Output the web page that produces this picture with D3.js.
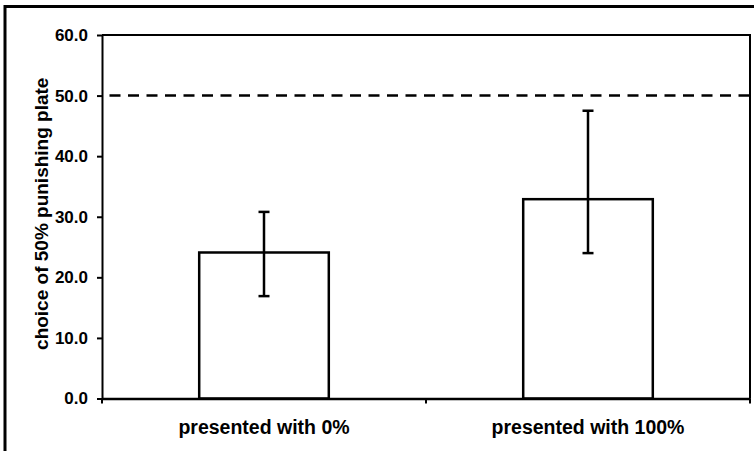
<!DOCTYPE html>
<html>
<head>
<meta charset="utf-8">
<script src="https://cdn.jsdelivr.net/npm/d3@7/dist/d3.min.js"></script>
<style>
  body { margin: 0; background: #fff; }
  svg { display: block; font-family: "Liberation Sans", Arial, sans-serif; }
</style>
</head>
<body>
<svg id="chart" width="754" height="451"></svg>
<script>
// values
const categories = ["presented with 0%", "presented with 100%"];
const means = [24.1, 32.9];
const upper = [30.8, 47.5];
const lower = [16.9, 24.0];
const yTicks = [0, 10, 20, 30, 40, 50, 60];
const chanceLevel = 50;
const yTitle = "choice of 50% punishing plate";

const svg = d3.select("#chart");
const plotL = 102, plotR = 750, plotT = 35, plotB = 398.5;

// outer frame, runs off the right and bottom of the picture
svg.append("rect")
  .attr("x", 5).attr("y", 6.5)
  .attr("width", 800).attr("height", 500)
  .attr("fill", "none").attr("stroke", "#000").attr("stroke-width", 3);

const x = d3.scaleBand().domain(categories).range([plotL, plotR]).padding(0);
const y = d3.scaleLinear().domain([0, 60]).range([plotB, plotT]);
const barW = x.bandwidth() * 0.4;

// plot box top + right
svg.append("path")
  .attr("d", `M${plotL},${y(60)}H${plotR}V${y(0)}`)
  .attr("fill", "none").attr("stroke", "#000").attr("stroke-width", 2);

// chance line
svg.append("line")
  .attr("x1", plotL).attr("x2", plotR)
  .attr("y1", y(chanceLevel)).attr("y2", y(chanceLevel))
  .attr("stroke", "#000").attr("stroke-width", 2.5)
  .attr("stroke-dasharray", "11,7.5")
  .attr("stroke-dashoffset", 11);

// bars
svg.selectAll(".bar").data(categories).join("rect")
  .attr("class", "bar")
  .attr("x", d => x(d) + (x.bandwidth() - barW) / 2)
  .attr("y", (d, i) => y(means[i]))
  .attr("width", barW)
  .attr("height", (d, i) => y(0) - y(means[i]))
  .attr("fill", "#fff").attr("stroke", "#000").attr("stroke-width", 2.5);

// error bars
const mid = d => x(d) + x.bandwidth() / 2;
const eb = svg.selectAll(".err").data(categories).join("g").attr("class", "err")
  .attr("stroke", "#000").attr("stroke-width", 2.5);
eb.append("line")
  .attr("x1", mid).attr("x2", mid)
  .attr("y1", (d, i) => y(lower[i])).attr("y2", (d, i) => y(upper[i]));
eb.append("line")
  .attr("x1", d => mid(d) - 5.5).attr("x2", d => mid(d) + 5.5)
  .attr("y1", (d, i) => y(upper[i])).attr("y2", (d, i) => y(upper[i]));
eb.append("line")
  .attr("x1", d => mid(d) - 5.5).attr("x2", d => mid(d) + 5.5)
  .attr("y1", (d, i) => y(lower[i])).attr("y2", (d, i) => y(lower[i]));

// y axis
const yAxis = svg.append("g")
  .attr("transform", `translate(${plotL},0)`)
  .call(d3.axisLeft(y).tickValues(yTicks).tickFormat(d3.format(".1f"))
    .tickSize(5).tickSizeOuter(0).tickPadding(9));
yAxis.selectAll("path, line").attr("stroke", "#000").attr("stroke-width", 2);
yAxis.selectAll("text")
  .attr("font-family", "'Liberation Sans', Arial, sans-serif")
  .attr("font-size", 17).attr("font-weight", "bold").attr("fill", "#000");

// x axis: labels centred, ticks on band edges
const xAxis = svg.append("g")
  .attr("transform", `translate(0,${plotB})`)
  .call(d3.axisBottom(x).tickSize(0).tickSizeOuter(0).tickPadding(0));
xAxis.select(".domain").attr("stroke", "#000").attr("stroke-width", 2.5);
xAxis.selectAll("text")
  .attr("font-family", "'Liberation Sans', Arial, sans-serif")
  .attr("font-size", 19.5).attr("font-weight", "bold").attr("fill", "#000")
  .attr("dy", null).attr("y", 35.5);
const edges = categories.map(d => x(d)).concat([x.range()[1]]);
xAxis.selectAll(".edge").data(edges).join("line")
  .attr("class", "edge")
  .attr("x1", d => d).attr("x2", d => d)
  .attr("y1", 0).attr("y2", 5)
  .attr("stroke", "#000").attr("stroke-width", 2);

// y title
svg.append("text")
  .attr("transform", `translate(48,${(plotT + plotB) / 2 - 3}) rotate(-90)`)
  .attr("text-anchor", "middle")
  .attr("font-size", 19).attr("font-weight", "bold")
  .text(yTitle);
</script>
</body>
</html>
